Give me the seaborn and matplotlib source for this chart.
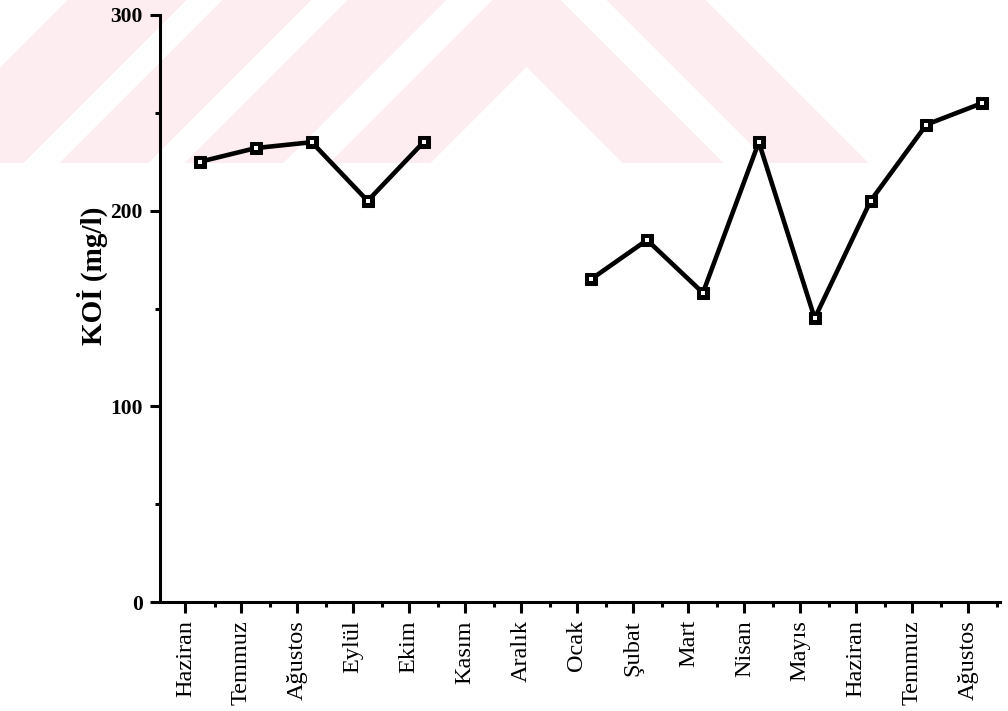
import numpy as np
import pandas as pd
import matplotlib
matplotlib.use("Agg")
import matplotlib.pyplot as plt
import seaborn as sns
from matplotlib.ticker import FixedLocator

# Months of the sampling period (June of year 1 through August of year 2)
months = ["Haziran", "Temmuz", "Ağustos", "Eylül", "Ekim", "Kasım", "Aralık",
          "Ocak", "Şubat", "Mart", "Nisan", "Mayıs", "Haziran", "Temmuz", "Ağustos"]

# COD values (mg/l); no samples in Kasım and Aralık
koi_first = [225, 232, 235, 205, 235]                   # Haziran .. Ekim
koi_second = [165, 185, 158, 235, 145, 205, 244, 255]   # Ocak .. Ağustos

y_ticks = [0, 100, 200, 300]
y_minor = [50, 150, 250]

pos = np.arange(len(months))
df1 = pd.DataFrame({"pos": pos[0:5], "koi": koi_first})
df2 = pd.DataFrame({"pos": pos[7:15], "koi": koi_second})

sns.set_theme(style="white")
plt.rcParams["font.family"] = ["Liberation Serif", "DejaVu Serif"]
for key in ("text.color", "axes.labelcolor", "xtick.color", "ytick.color"):
    plt.rcParams[key] = "black"

W, H = 1008, 711
fig = plt.figure(figsize=(W / 100, H / 100), dpi=100)
fig.patch.set_facecolor("white")

# light pink chevron watermark across the top band
yy, xx = np.mgrid[0:H, 0:W].astype(float)
d = yy - np.abs(xx - 526)
left = xx < 526
pink = ((d > -35) & (d < 67)) | ((d > -180) & (d < -80))
pink |= left & (((d > -305) & (d < -215)) | ((d > -460) & (d < -340)))
pink &= yy < 163
wm = np.ones((H, W, 4))
wm[..., 3] = 0
wm[pink] = [253 / 255, 237 / 255, 240 / 255, 1.0]
fig.figimage(wm, xo=0, yo=0, origin="upper", zorder=-5)

ax = fig.add_axes([160 / W, 1 - 602 / H, (1000 - 160) / W, (602 - 15) / H])
ax.set_facecolor("none")
ax.set_zorder(2)

lw = 3.3
for df in (df1, df2):
    sns.lineplot(data=df, x="pos", y="koi", ax=ax, color="black", linewidth=lw,
                 marker="s", markersize=9, markerfacecolor="black",
                 markeredgecolor="black", estimator=None, legend=False)
    sns.scatterplot(data=df, x="pos", y="koi", ax=ax, marker="s", s=6,
                    color="white", linewidth=0, zorder=5, legend=False)

ax.set_xlim(-0.716, 14.316)
ax.set_ylim(0, 300)

# month ticks sit a quarter step left of the sample points
ax.xaxis.set_major_locator(FixedLocator(pos - 0.26))
ax.xaxis.set_minor_locator(FixedLocator(pos + 0.26))
ax.set_xticklabels(months, rotation=90, fontsize=17.5)
ax.set_yticks(y_ticks)
ax.yaxis.set_minor_locator(FixedLocator(y_minor))
ax.set_yticklabels([str(v) for v in y_ticks], fontsize=15.5, fontweight="bold")

ax.tick_params(axis="x", which="major", direction="out", length=8, width=2.2,
               color="black", pad=5, bottom=True)
ax.tick_params(axis="x", which="minor", direction="out", length=3.5, width=2.2,
               color="black", bottom=True)
ax.tick_params(axis="y", which="major", direction="out", length=7.5, width=2.2,
               color="black", pad=5, left=True)
ax.tick_params(axis="y", which="minor", direction="out", length=3.5, width=2.2,
               color="black", left=True)

for s in ("top", "right"):
    ax.spines[s].set_visible(False)
for s in ("left", "bottom"):
    ax.spines[s].set_linewidth(2.2)
    ax.spines[s].set_color("black")

ax.set_xlabel("")
ax.set_ylabel("KOİ (mg/l)", fontsize=21, fontweight="bold")
ax.yaxis.set_label_coords(-0.062, 0.555)

fig.savefig("out.png", dpi=100)
